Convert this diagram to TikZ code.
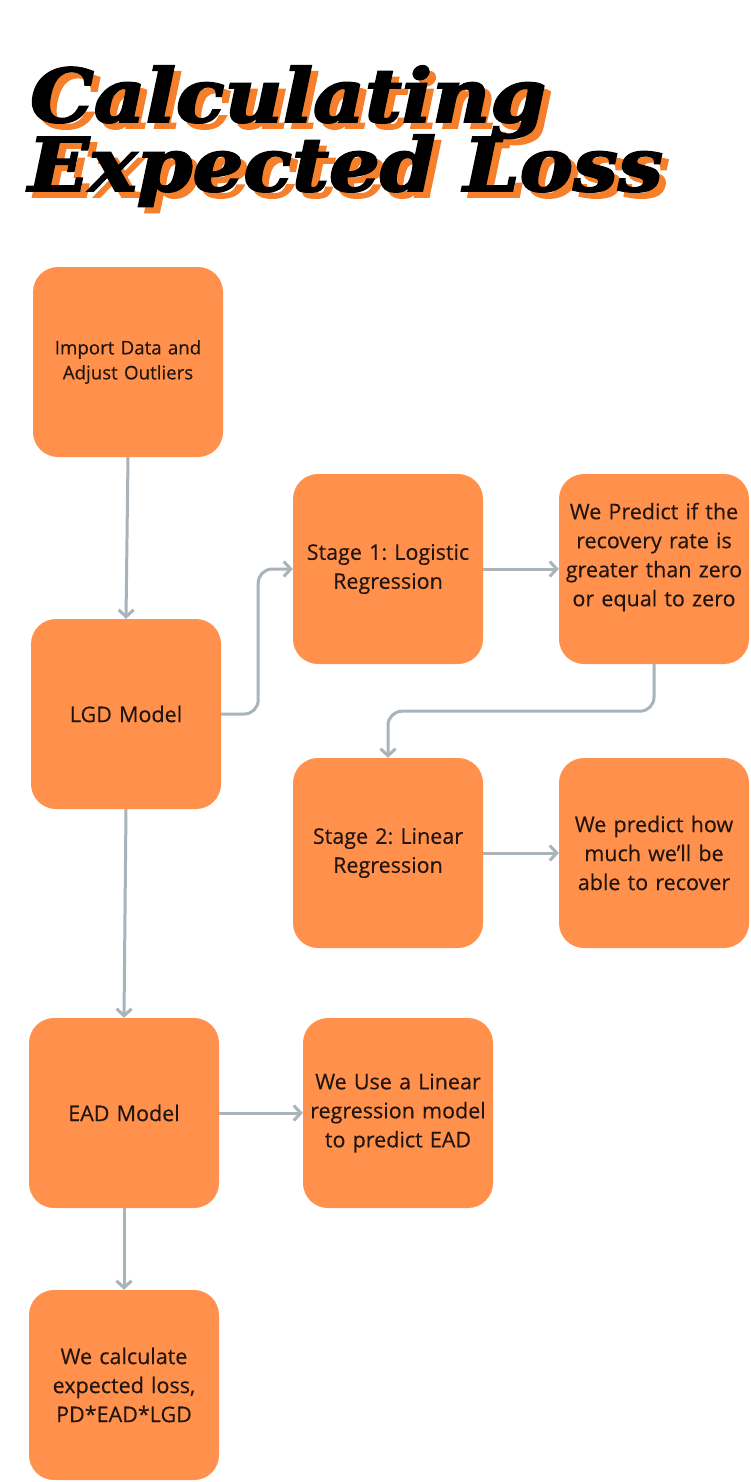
\documentclass[tikz,border=0pt]{standalone}
\usepackage{fontspec}
\setmainfont{Open Sans}[FakeBold=0.3]
\newfontfamily\titlefont[BoldItalicFeatures={FakeBold=2.5}]{DejaVu Serif}
\usetikzlibrary{arrows.meta}
\definecolor{boxorange}{HTML}{FF914D}
\definecolor{shadeorange}{HTML}{F57F2A}
\definecolor{arrowgray}{HTML}{A9B3BA}
\definecolor{inkbrown}{HTML}{22150F}
\tikzset{>/.tip={Straight Barb[length=7pt,width=15pt]}}
\newcommand{\shadowed}[1]{\makebox[0pt][l]{\hspace{6pt}\raisebox{-6pt}{\color{shadeorange}#1}}#1}
\frenchspacing

\begin{document}
\begin{tikzpicture}[x=1pt,y=-1pt,
  stepbox/.style={fill=boxorange, rounded corners=25pt, minimum width=190pt, minimum height=190pt,
    text width=184pt, align=center, text=inkbrown, inner sep=0pt,
    font=\fontsize{21.5}{29}\selectfont},
  flow/.style={->, draw=arrowgray, line width=3pt, rounded corners=14pt},
  headline/.style={anchor=base west, inner sep=0pt, font=\titlefont\bfseries\itshape\fontsize{74}{74}\selectfont}]
\useasboundingbox (0,0) rectangle (750,1482);

% title with orange shadow
\node[headline] (title1) at (30,122) {\scalebox{1.08}[1]{\shadowed{Calculating}}};
\node[headline] (title2) at (28,191) {\scalebox{1.08}[1]{\shadowed{Expected Loss}}};

% boxes
\node[stepbox, font=\fontsize{18.7}{25}\selectfont] (import) at (128,362) {Import Data and\\Adjust Outliers};
\node[stepbox] (lgd) at (126,714) {LGD Model};
\node[stepbox] (stage1) at (388,569) {Stage 1: Logistic\\Regression};
\node[stepbox] (rate) at (654,569) {We Predict if the\\recovery rate is\\greater than zero\\or equal to zero\\\rule{0pt}{18pt}};
\node[stepbox] (stage2) at (388,853) {Stage 2: Linear\\Regression};
\node[stepbox] (recover) at (654,853) {We predict how\\much we’ll be\\able to recover};
\node[stepbox] (ead) at (124,1113) {EAD Model};
\node[stepbox] (eadlin) at (398,1113) {We Use a Linear\\regression model\\to predict EAD};
\node[stepbox] (loss) at (124,1385) {We calculate\\expected loss,\\PD*EAD*LGD};

% connectors
\draw[flow] (import.south) -- (lgd.north);
\draw[flow] (lgd.east) -- ++(37,0) |- (stage1.west);
\draw[flow] (stage1.east) -- (rate.west);
\draw[flow] (rate.south) -- ++(0,47) -| (stage2.north);
\draw[flow] (stage2.east) -- (recover.west);
\draw[flow] (lgd.south) -- (ead.north);
\draw[flow] (ead.east) -- (eadlin.west);
\draw[flow] (ead.south) -- (loss.north);
\end{tikzpicture}
\end{document}
